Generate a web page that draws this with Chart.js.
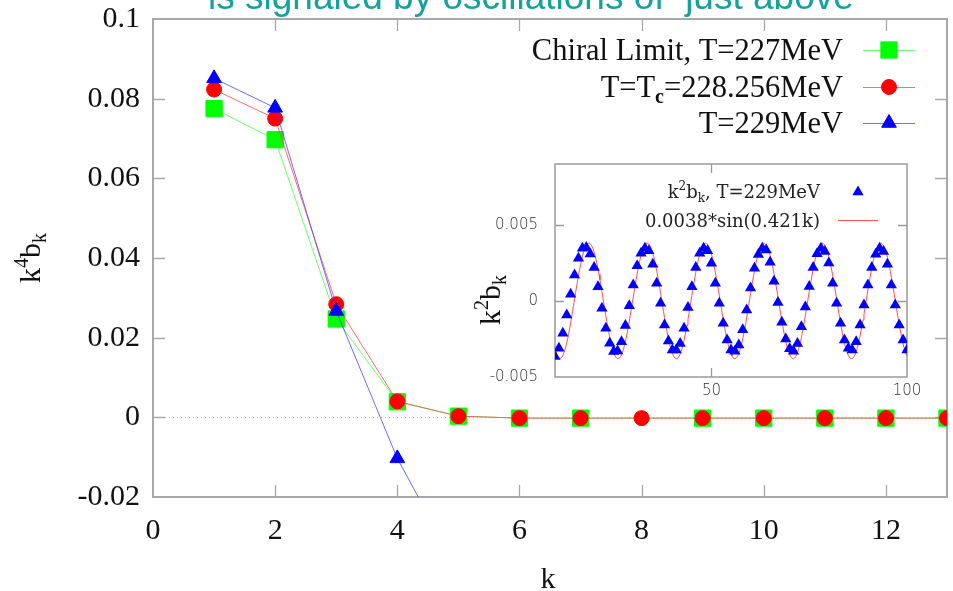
<!DOCTYPE html>
<html>
<head>
<meta charset="utf-8">
<script src="https://cdn.jsdelivr.net/npm/chart.js@4.4.0/dist/chart.umd.min.js"></script>
<style>
  html, body { margin: 0; padding: 0; background: #ffffff; }
  #wrap { position: relative; width: 953px; height: 591px; overflow: hidden; background: #ffffff; }
  #main { position: absolute; left: 0; top: 0; }
  #inset { position: absolute; left: 440px; top: 150px; }
</style>
</head>
<body>
<div id="wrap">
  <canvas id="main" width="953" height="591"></canvas>
  <canvas id="inset" width="480" height="260"></canvas>
</div>
<script>
// ---- main panel: k^4 b_k against k ----
const K_VALUES = [1, 2, 3, 4, 5, 6, 7, 8, 9, 10, 11, 12, 13];
const CHIRAL_227 = [0.0775, 0.0697, 0.0247, 0.0039, 0.0003, -0.0002, -0.0002, null, -0.0002, -0.0002, -0.0002, -0.0002, -0.0002];
const TC_228 = [0.0823, 0.0750, 0.0284, 0.0040, 0.0003, -0.0002, -0.0002, -0.0002, -0.0002, -0.0002, -0.0002, -0.0002, -0.0002];
const T_229 = [0.0851, 0.0777, 0.0267, -0.0103, -0.0385];

const K_TICKS = [0, 2, 4, 6, 8, 10, 12];
const Y_TICKS = [-0.02, 0, 0.02, 0.04, 0.06, 0.08, 0.1];
const Y_TICK_LABELS = ['-0.02', '0', '0.02', '0.04', '0.06', '0.08', '0.1'];

const SERIES_NAMES = ['Chiral Limit, T=227MeV', 'T=Tc=228.256MeV', 'T=229MeV'];

// ---- inset: k^2 b_k for T=229MeV, k = 10 ... 100 ----
const INSET_K_START = 10;
const INSET_K2BK = [
  -0.00366, -0.00311, -0.00213, -0.00092, 0.00044, 0.00171, 0.00281, 0.00346, 0.00351, 0.00309,
  0.00219, 0.00094, -0.00048, -0.00180, -0.00278, -0.00333, -0.00329, -0.00268, -0.00162, -0.00031,
  0.00105, 0.00232, 0.00314, 0.00346, 0.00329, 0.00241, 0.00116, -0.00015, -0.00158, -0.00263,
  -0.00322, -0.00322, -0.00279, -0.00180, -0.00044, 0.00094, 0.00219, 0.00314, 0.00346, 0.00329,
  0.00248, 0.00116, -0.00015, -0.00147, -0.00257, -0.00322, -0.00330, -0.00290, -0.00190, -0.00060,
  0.00085, 0.00215, 0.00305, 0.00346, 0.00335, 0.00255, 0.00130, -0.00010, -0.00140, -0.00250,
  -0.00315, -0.00330, -0.00280, -0.00170, -0.00040, 0.00095, 0.00220, 0.00310, 0.00346, 0.00325,
  0.00250, 0.00116, -0.00015, -0.00147, -0.00257, -0.00311, -0.00322, -0.00268, -0.00158, -0.00026,
  0.00105, 0.00219, 0.00307, 0.00346, 0.00325, 0.00241, 0.00105, -0.00026, -0.00158, -0.00257,
  -0.00322
];
// fitted curve A*sin(w k), constants as quoted in the inset key
const FIT_AMPLITUDE = 0.0038;
const FIT_WAVENUMBER = 0.421;
const FIT_LABEL = FIT_AMPLITUDE + '*sin(' + FIT_WAVENUMBER + 'k)';

const INSET_K_TICKS = [50, 100];
const INSET_Y_TICKS = [-0.005, 0, 0.005];
const INSET_Y_TICK_LABELS = ['-0.005', '0', '0.005'];

const HEADLINE = 'is signaled by oscillations of  just above';

// ------------------------------------------------------------------
const SERIF = '"Liberation Serif", "Times New Roman", serif';
const SANS_LIGHT = '"DejaVu Sans", sans-serif';

function toXY(xs, ys) {
  const out = [];
  for (let i = 0; i < ys.length; i++) out.push({ x: xs[i], y: ys[i] });
  return out;
}

// draws a run of text pieces (for super/subscripts) along one baseline
function richText(ctx, parts, x, y, align) {
  ctx.save();
  ctx.textAlign = 'left';
  ctx.textBaseline = 'alphabetic';
  let w = 0;
  parts.forEach(p => { ctx.font = p.font; w += ctx.measureText(p.text).width; });
  let cx = align === 'right' ? x - w : (align === 'center' ? x - w / 2 : x);
  parts.forEach(p => {
    ctx.font = p.font;
    ctx.fillText(p.text, cx, y + (p.dy || 0));
    cx += ctx.measureText(p.text).width;
  });
  ctx.restore();
}

function frameAndTicks(chart, xTicks, yTicks, len, color, width) {
  const ctx = chart.ctx, a = chart.chartArea;
  const xs = chart.scales.x, ys = chart.scales.y;
  ctx.save();
  ctx.strokeStyle = color;
  ctx.lineWidth = 1.3;
  ctx.beginPath();
  xTicks.forEach(v => {
    const px = Math.round(xs.getPixelForValue(v)) + 0.5;
    if (px <= a.left + 2 || px >= a.right - 2) return;
    ctx.moveTo(px, a.bottom); ctx.lineTo(px, a.bottom - len);
    ctx.moveTo(px, a.top); ctx.lineTo(px, a.top + len);
  });
  yTicks.forEach(v => {
    const py = Math.round(ys.getPixelForValue(v)) + 0.5;
    if (py <= a.top + 2 || py >= a.bottom - 2) return;
    ctx.moveTo(a.left, py); ctx.lineTo(a.left + len, py);
    ctx.moveTo(a.right, py); ctx.lineTo(a.right - len, py);
  });
  ctx.stroke();
  ctx.lineWidth = width;
  ctx.strokeRect(a.left, a.top, a.right - a.left, a.bottom - a.top);
  ctx.restore();
}

// keep the plot box exactly where the axis sizes put it
function noLabelPadding(s) {
  s.paddingLeft = 0; s.paddingRight = 0; s.paddingTop = 0; s.paddingBottom = 0;
}

const GREEN = '#00ff00', RED = '#ff0000', BLUE = '#0000ff';

const mainDecor = {
  id: 'mainDecor',
  beforeDatasetsDraw(chart) {
    const ctx = chart.ctx, a = chart.chartArea;
    const y0 = Math.round(chart.scales.y.getPixelForValue(0)) + 0.5;
    ctx.save();
    ctx.strokeStyle = '#b8b8b8';
    ctx.lineWidth = 1;
    ctx.setLineDash([1, 3]);
    ctx.beginPath();
    ctx.moveTo(a.left, y0); ctx.lineTo(a.right, y0);
    ctx.stroke();
    ctx.restore();
    frameAndTicks(chart, K_TICKS, Y_TICKS, 12, '#a8a8a8', 2);
  },
  afterDraw(chart) {
    const ctx = chart.ctx;
    ctx.save();
    // headline running off the top edge
    ctx.fillStyle = '#14a29e';
    ctx.font = '37px "Liberation Sans", Arial, sans-serif';
    ctx.textAlign = 'left';
    ctx.textBaseline = 'alphabetic';
    ctx.fillText(HEADLINE, 208, 9);

    ctx.fillStyle = '#111111';
    // axis titles
    const big = '30px ' + SERIF, small = '20px ' + SERIF;
    richText(ctx, [{ text: 'k', font: big }], 548, 588, 'center');
    ctx.save();
    ctx.translate(40, 258);
    ctx.rotate(-Math.PI / 2);
    richText(ctx, [
      { text: 'k', font: big },
      { text: '4', font: small, dy: -12 },
      { text: 'b', font: big },
      { text: 'k', font: small, dy: 6 }
    ], 0, 0, 'center');
    ctx.restore();

    // key, top right (each row names the dataset it samples)
    const lf = '30.5px ' + SERIF, lsub = 'bold 20px ' + SERIF;
    const byLabel = name => chart.data.datasets.find(d => d.label === name);
    const rows = [
      { parts: [{ text: SERIES_NAMES[0], font: lf }], y: 50, ds: byLabel(SERIES_NAMES[0]) },
      { parts: [{ text: 'T=T', font: lf }, { text: 'c', font: lsub, dy: 6 }, { text: '=228.256MeV', font: lf }], y: 87, ds: byLabel(SERIES_NAMES[1]) },
      { parts: [{ text: SERIES_NAMES[2], font: lf }], y: 123, ds: byLabel(SERIES_NAMES[2]) }
    ];
    rows.forEach(r => {
      richText(ctx, r.parts, 843, r.y + 10, 'right');
      const d = r.ds;
      ctx.save();
      ctx.strokeStyle = d.borderColor;
      ctx.lineWidth = 1;
      ctx.beginPath();
      ctx.moveTo(863, r.y + 0.5); ctx.lineTo(915, r.y + 0.5);
      ctx.stroke();
      ctx.fillStyle = d.pointBackgroundColor;
      ctx.strokeStyle = d.pointBorderColor;
      Chart.helpers.drawPoint(ctx, { pointStyle: d.pointStyle, radius: d.pointRadius, rotation: 0, borderWidth: d.pointBorderWidth }, 889, r.y);
      ctx.restore();
    });
    ctx.restore();
  }
};

new Chart(document.getElementById('main'), {
  type: 'line',
  data: {
    datasets: [
      {
        label: SERIES_NAMES[2], data: toXY(K_VALUES, T_229),
        borderColor: 'rgba(60,60,255,0.75)', borderWidth: 1,
        pointStyle: 'triangle', pointRadius: 8.5,
        pointBackgroundColor: BLUE, pointBorderColor: BLUE, pointBorderWidth: 1, order: 0
      },
      {
        label: SERIES_NAMES[1], data: toXY(K_VALUES, TC_228),
        borderColor: 'rgba(255,60,60,0.75)', borderWidth: 1,
        pointStyle: 'circle', pointRadius: 7.5,
        pointBackgroundColor: RED, pointBorderColor: RED, pointBorderWidth: 1, order: 1
      },
      {
        label: SERIES_NAMES[0], data: toXY(K_VALUES, CHIRAL_227),
        borderColor: 'rgba(60,255,60,0.75)', borderWidth: 1, spanGaps: true,
        pointStyle: 'rect', pointRadius: 11.5,
        pointBackgroundColor: GREEN, pointBorderColor: GREEN, pointBorderWidth: 1, order: 2
      }
    ]
  },
  options: {
    responsive: false,
    animation: false,
    devicePixelRatio: 1,
    layout: { autoPadding: false, padding: { top: 19, right: 6, left: 0, bottom: 0 } },
    plugins: { legend: { display: false }, tooltip: { enabled: false }, title: { display: false } },
    elements: { line: { tension: 0 } },
    scales: {
      x: {
        type: 'linear', min: 0, max: 13,
        afterBuildTicks: s => { s.ticks = K_TICKS.map(v => ({ value: v })); },
        afterFit: s => { s.height = 94; noLabelPadding(s); },
        grid: { display: false, drawTicks: false },
        border: { display: false },
        ticks: { font: { family: SERIF, size: 30 }, color: '#111111', padding: 16, maxRotation: 0,
                 callback: (v, i) => String(K_TICKS[i]) }
      },
      y: {
        type: 'linear', min: -0.02, max: 0.1,
        afterBuildTicks: s => { s.ticks = Y_TICKS.map(v => ({ value: v })); },
        afterFit: s => { s.width = 153; noLabelPadding(s); },
        grid: { display: false, drawTicks: false },
        border: { display: false },
        ticks: { font: { family: SERIF, size: 30 }, color: '#111111', padding: 13,
                 callback: (v, i) => Y_TICK_LABELS[i] }
      }
    }
  },
  plugins: [mainDecor]
});

// ---- inset chart ----
const insetPoints = INSET_K2BK.map((v, i) => ({ x: INSET_K_START + i, y: v }));
const fitCurve = [];
for (let k = INSET_K_START; k <= 100.0001; k += 0.25) {
  fitCurve.push({ x: k, y: FIT_AMPLITUDE * Math.sin(FIT_WAVENUMBER * k) });
}

const insetDecor = {
  id: 'insetDecor',
  beforeDatasetsDraw(chart) {
    frameAndTicks(chart, INSET_K_TICKS, INSET_Y_TICKS, 9, '#9a9a9a', 1.5);
  },
  afterDraw(chart) {
    const ctx = chart.ctx;
    ctx.save();
    ctx.fillStyle = '#222222';
    const f = '18px "DejaVu Serif", serif', fs = '12px "DejaVu Serif", serif';
    richText(ctx, [
      { text: 'k', font: f }, { text: '2', font: fs, dy: -8 },
      { text: 'b', font: f }, { text: 'k', font: fs, dy: 4 },
      { text: ', T=229MeV', font: f }
    ], 380, 48, 'right');
    richText(ctx, [{ text: FIT_LABEL, font: f }], 380, 77, 'right');
    ctx.fillStyle = BLUE;
    ctx.strokeStyle = BLUE;
    Chart.helpers.drawPoint(ctx, { pointStyle: 'triangle', radius: 6.5, rotation: 0, borderWidth: 0 }, 418, 42);
    ctx.strokeStyle = 'rgba(255,50,50,0.85)';
    ctx.lineWidth = 1;
    ctx.beginPath();
    ctx.moveTo(398, 70.5); ctx.lineTo(438, 70.5);
    ctx.stroke();

    ctx.fillStyle = '#111111';
    ctx.translate(60, 150);
    ctx.rotate(-Math.PI / 2);
    richText(ctx, [
      { text: 'k', font: '30px ' + SERIF }, { text: '2', font: '20px ' + SERIF, dy: -12 },
      { text: 'b', font: '30px ' + SERIF }, { text: 'k', font: '20px ' + SERIF, dy: 6 }
    ], 0, 0, 'center');
    ctx.restore();
  }
};

new Chart(document.getElementById('inset'), {
  type: 'line',
  data: {
    datasets: [
      {
        label: 'k2bk, T=229MeV', data: insetPoints, showLine: false,
        pointStyle: 'triangle', pointRadius: 6.5,
        pointBackgroundColor: BLUE, pointBorderColor: BLUE, pointBorderWidth: 0, order: 0
      },
      {
        label: FIT_LABEL, data: fitCurve,
        borderColor: 'rgba(255,50,50,0.85)', borderWidth: 1, pointRadius: 0, order: 1
      }
    ]
  },
  options: {
    responsive: false,
    animation: false,
    devicePixelRatio: 1,
    layout: { autoPadding: false, padding: { top: 14, right: 13, left: 0, bottom: 0 } },
    plugins: { legend: { display: false }, tooltip: { enabled: false } },
    elements: { line: { tension: 0 } },
    scales: {
      x: {
        type: 'linear', min: INSET_K_START, max: 100,
        afterBuildTicks: s => { s.ticks = INSET_K_TICKS.map(v => ({ value: v })); },
        afterFit: s => { s.height = 33; noLabelPadding(s); },
        grid: { display: false, drawTicks: false },
        border: { display: false },
        ticks: { font: { family: SANS_LIGHT, size: 15, weight: '200' }, color: '#333333', padding: 5, maxRotation: 0,
                 callback: (v, i) => String(INSET_K_TICKS[i]) }
      },
      y: {
        type: 'linear', min: -0.005, max: 0.009,
        afterBuildTicks: s => { s.ticks = INSET_Y_TICKS.map(v => ({ value: v })); },
        afterFit: s => { s.width = 115; noLabelPadding(s); },
        grid: { display: false, drawTicks: false },
        border: { display: false },
        ticks: { font: { family: SANS_LIGHT, size: 15, weight: '200' }, color: '#333333', padding: 17,
                 callback: (v, i) => INSET_Y_TICK_LABELS[i] }
      }
    }
  },
  plugins: [insetDecor]
});
</script>
</body>
</html>
